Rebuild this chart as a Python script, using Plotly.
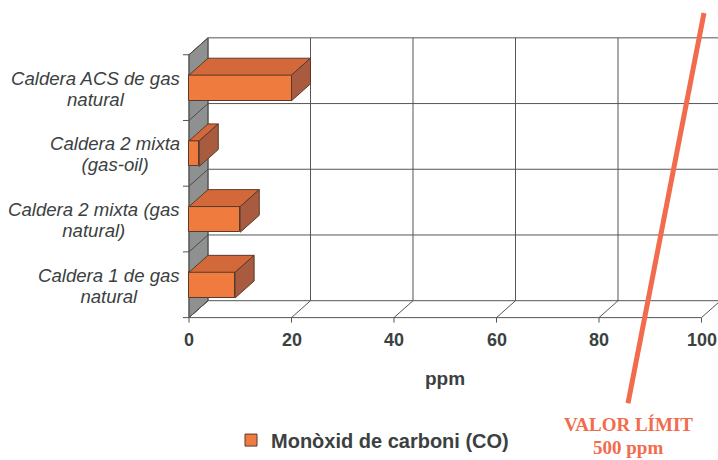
import plotly.graph_objects as go

# ---------------- data ----------------
categories = [
    "Caldera 1 de gas<br>natural",
    "Caldera 2 mixta (gas<br>natural)",
    "Caldera 2 mixta<br>(gas-oil)",
    "Caldera ACS de gas<br>natural",
]
co_values = [9, 10, 2, 20]
x_ticks = [0, 20, 40, 60, 80, 100]
x_tick_labels = ["0", "20", "40", "60", "80", "100"]
series_name = "Monòxid de carboni (CO)"
axis_title = "ppm"
limit_text = ["VALOR LÍMIT", "500 ppm"]

# ---------------- geometry / style ----------------
W, H = 718, 460
PXU = 5.125          # px per ppm unit
X0 = 189             # px of value 0 (front plane)
BAND = 66            # px per category band
Y0 = 319             # px of front floor
DX = 19 / PXU        # 3D depth offset (x)
DY = 17 / BAND       # 3D depth offset (y)
BAR_LO, BAR_HI = 0.30, 0.69
XMAX = x_ticks[-1]
NCAT = len(categories)


def dxu(px):
    return px / PXU


def dyu(px):
    return px / BAND


def px_paper(rx, ry):
    return rx / W, 1 - ry / H


FONT = "Liberation Sans, Arial, sans-serif"
SERIF = "Liberation Serif, Times New Roman, serif"
TXT = "#3b4141"
GRID = "#555555"
FRONT = "#ef7b3e"
TOP = "#d3693a"
SIDE = "#a95b3f"
EDGE = "#5a3a2a"
WALL = "#8f9191"
LIMIT = "#f26b4d"

fig = go.Figure()

shapes = []
# left grey wall
shapes.append(dict(type="path", layer="below",
                   path=f"M0,0 L{DX},{DY} L{DX},{NCAT + DY} L0,{NCAT} Z",
                   fillcolor=WALL, line=dict(color=GRID, width=1), xref="x", yref="y"))
# back wall horizontal grid + wall diagonals + left ticks
for k in range(NCAT + 1):
    shapes.append(dict(type="line", layer="below", x0=DX, y0=k + DY, x1=XMAX + DX + dxu(20), y1=k + DY,
                       line=dict(color=GRID, width=1), xref="x", yref="y"))
    shapes.append(dict(type="line", layer="below", x0=0, y0=k, x1=DX, y1=k + DY,
                       line=dict(color="#4a4a4a", width=1), xref="x", yref="y"))
    shapes.append(dict(type="line", layer="below", x0=dxu(-6), y0=k, x1=0, y1=k,
                       line=dict(color=GRID, width=1), xref="x", yref="y"))
# back wall vertical grid + floor diagonals + bottom ticks
for v in x_ticks:
    shapes.append(dict(type="line", layer="below", x0=v + DX, y0=DY, x1=v + DX, y1=NCAT + DY,
                       line=dict(color=GRID, width=1), xref="x", yref="y"))
    shapes.append(dict(type="line", layer="below", x0=v, y0=0, x1=v + DX, y1=DY,
                       line=dict(color=GRID, width=1), xref="x", yref="y"))
    shapes.append(dict(type="line", layer="below", x0=v, y0=0, x1=v, y1=dyu(-5),
                       line=dict(color=GRID, width=1), xref="x", yref="y"))
# front floor edge and left axis
shapes.append(dict(type="line", layer="below", x0=0, y0=0, x1=XMAX, y1=0,
                   line=dict(color=GRID, width=1), xref="x", yref="y"))
shapes.append(dict(type="line", layer="below", x0=0, y0=0, x1=0, y1=NCAT,
                   line=dict(color=GRID, width=1), xref="x", yref="y"))
# hand-drawn limit line
lx0, ly0 = px_paper(628, 405)
lx1, ly1 = px_paper(704, 13)
shapes.append(dict(type="line", layer="above", xref="paper", yref="paper",
                   x0=lx0, y0=ly0, x1=lx1, y1=ly1, line=dict(color=LIMIT, width=5)))

# bar front faces
centers = [i + (BAR_LO + BAR_HI) / 2 for i in range(NCAT)]
fig.add_trace(go.Bar(
    x=co_values, y=centers, base=0, orientation="h", width=BAR_HI - BAR_LO,
    marker=dict(color=FRONT, line=dict(color=EDGE, width=1)),
    name=series_name, showlegend=True, hoverinfo="skip",
))

# bar top and side faces
for i, v in enumerate(co_values):
    b, t = i + BAR_LO, i + BAR_HI
    fig.add_trace(go.Scatter(
        x=[0, v, v + DX, DX, 0], y=[t, t, t + DY, t + DY, t],
        fill="toself", fillcolor=TOP, mode="lines", line=dict(color=EDGE, width=1),
        showlegend=False, hoverinfo="skip"))
    fig.add_trace(go.Scatter(
        x=[v, v, v + DX, v + DX, v], y=[b, t, t + DY, b + DY, b],
        fill="toself", fillcolor=SIDE, mode="lines", line=dict(color=EDGE, width=1),
        showlegend=False, hoverinfo="skip"))

annotations = []
for i, c in enumerate(categories):
    # glyphs at 18.6px, line spacing from a 16px base (tighter, as in the original)
    styled = "<br>".join(f'<span style="font-size:18.6px">{ln}</span>' for ln in c.split("<br>"))
    annotations.append(dict(x=dxu(-7), y=i + 0.5 - dyu(1), xref="x", yref="y", text=styled,
                            showarrow=False, xanchor="right", yanchor="middle", align="center",
                            font=dict(family=FONT, size=16, color=TXT, style="italic")))
for v, lab in zip(x_ticks, x_tick_labels):
    annotations.append(dict(x=v, y=dyu(-22), xref="x", yref="y", text=f"<b>{lab}</b>", showarrow=False,
                            xanchor="center", yanchor="middle",
                            font=dict(family=FONT, size=18, color=TXT)))
annotations.append(dict(x=XMAX / 2, y=dyu(-61), xref="x", yref="y", text=f"<b>{axis_title}</b>",
                        showarrow=False, xanchor="center", yanchor="middle",
                        font=dict(family=FONT, size=19, color=TXT)))
for txt, ry in zip(limit_text, [426, 449]):
    ax, ay = px_paper(628, ry)
    annotations.append(dict(x=ax, y=ay, xref="paper", yref="paper", text=f"<b>{txt}</b>",
                            showarrow=False, xanchor="center", yanchor="middle",
                            font=dict(family=SERIF, size=19, color=LIMIT)))

lgx, lgy = px_paper(231, 442)
fig.update_layout(
    width=W, height=H,
    margin=dict(l=0, r=0, t=0, b=0, pad=0),
    paper_bgcolor="white", plot_bgcolor="white",
    xaxis=dict(range=[-X0 / PXU, (W - X0) / PXU], visible=False, fixedrange=True),
    yaxis=dict(range=[-(H - Y0) / BAND, Y0 / BAND], visible=False, fixedrange=True),
    shapes=shapes, annotations=annotations,
    showlegend=True,
    legend=dict(x=lgx, y=lgy, xanchor="left", yanchor="middle",
                bgcolor="rgba(0,0,0,0)", borderwidth=0,
                font=dict(family=FONT, size=20, color=TXT, weight="bold")),
    bargap=0,
)

fig.write_html(
    "out.html",
    config={"displayModeBar": False},
    post_script="document.body.style.margin='0';document.body.style.overflow='hidden';",
)
